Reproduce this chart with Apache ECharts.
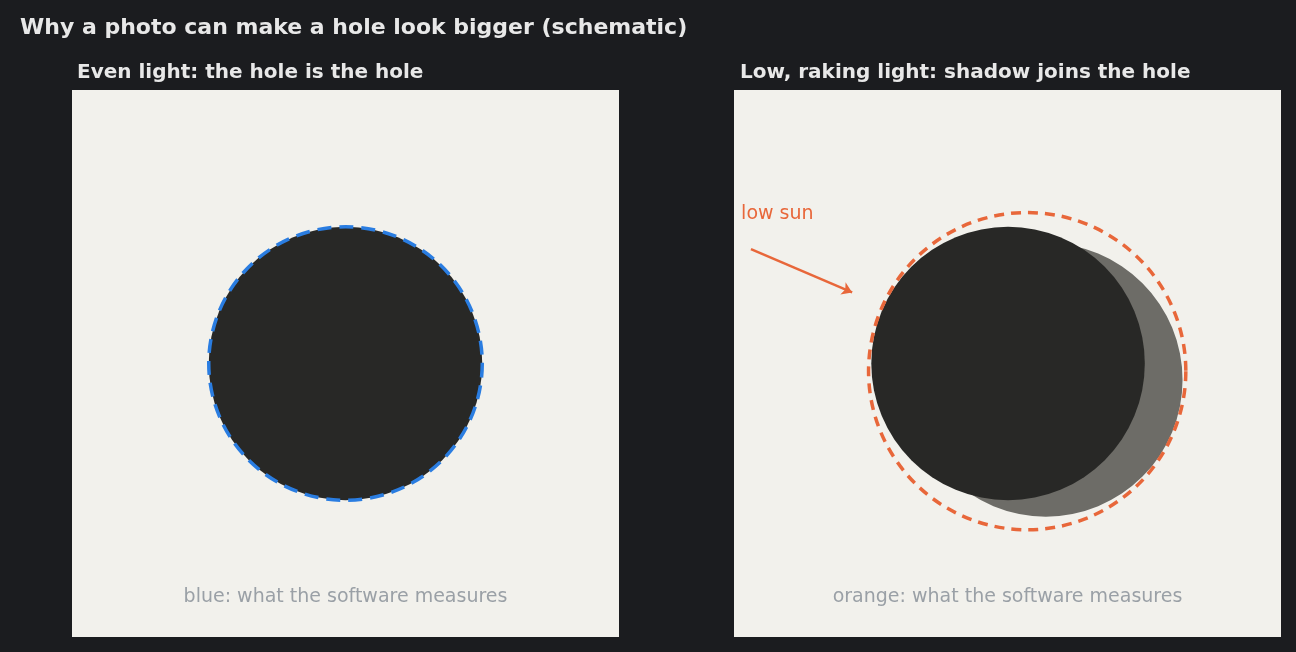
<!DOCTYPE html>
<html><head><meta charset="utf-8">
<script src="https://cdn.jsdelivr.net/npm/echarts@6/dist/echarts.min.js"></script>
<style>html,body{margin:0;background:#1b1c1f}#c{width:1296px;height:652px}</style>
</head><body><div id="c"></div>
<script>
const panelTitles = ['Even light: the hole is the hole', 'Low, raking light: shadow joins the hole'];
const captions = ['blue: what the software measures', 'orange: what the software measures'];
// [cx, cy, r] in panel units (0..10)
const leftHole = [5.0, 5.0, 2.5];
const leftMeasured = [5.0, 5.0, 2.5];
const rightShadow = [5.7, 4.7, 2.5];
const rightHole = [5.01, 5.0, 2.5];
const rightMeasured = [5.36, 4.86, 2.9];
const sunArrow = [[0.31, 7.09], [2.16, 6.30]];
const sunLabel = [0.13, 7.73, 'low sun'];

function circ(d, style, g) {
  return {
    type: 'custom', xAxisIndex: g, yAxisIndex: g, silent: true,
    data: [d],
    renderItem: (p, api) => {
      const c = api.coord([api.value(0), api.value(1)]);
      const r = api.size([api.value(2), 0])[0];
      return {type: 'circle', shape: {cx: c[0], cy: c[1], r: r}, style: style};
    }
  };
}
function txt(d, style, g) {
  return {
    type: 'custom', xAxisIndex: g, yAxisIndex: g, silent: true, data: [d],
    renderItem: (p, api) => {
      const c = api.coord([api.value(0), api.value(1)]);
      return {type: 'text', x: c[0], y: c[1], style: Object.assign({text: d[2]}, style)};
    }
  };
}
const ax = {min: 0, max: 10, show: false};
const chart = echarts.init(document.getElementById('c'));
chart.setOption({
  backgroundColor: '#1b1c1f',
  animation: false,
  title: [
    {text: 'Why a photo can make a hole look bigger (schematic)', left: 15, top: 12, textStyle: {color: '#e8e8e8', fontSize: 22, fontWeight: 'bold', fontFamily: 'DejaVu Sans'}},
    {text: panelTitles[0], left: 72, top: 58, textStyle: {color: '#e8e8e8', fontSize: 20, fontWeight: 'bold', fontFamily: 'DejaVu Sans'}},
    {text: panelTitles[1], left: 735, top: 58, textStyle: {color: '#e8e8e8', fontSize: 20, fontWeight: 'bold', fontFamily: 'DejaVu Sans'}}
  ],
  grid: [
    {left: 72, top: 90, width: 547, height: 547, show: true, backgroundColor: '#f2f1ec', borderWidth: 0},
    {left: 734, top: 90, width: 547, height: 547, show: true, backgroundColor: '#f2f1ec', borderWidth: 0}
  ],
  xAxis: [Object.assign({gridIndex: 0}, ax), Object.assign({gridIndex: 1}, ax)],
  yAxis: [Object.assign({gridIndex: 0}, ax), Object.assign({gridIndex: 1}, ax)],
  series: [
    circ(leftHole, {fill: '#282826'}, 0),
    circ(leftMeasured, {fill: 'none', stroke: '#2a7de1', lineWidth: 3.5, lineDash: [14, 8]}, 0),
    circ(rightShadow, {fill: '#6d6c67'}, 1),
    circ(rightHole, {fill: '#282826'}, 1),
    circ(rightMeasured, {fill: 'none', stroke: '#e8673a', lineWidth: 3.5, lineDash: [10, 7]}, 1),
    {type: 'lines', coordinateSystem: 'cartesian2d', xAxisIndex: 1, yAxisIndex: 1, silent: true,
     symbol: ['none', 'arrow'], symbolSize: 10,
     lineStyle: {color: '#e8673a', width: 2.5, opacity: 1},
     data: [{coords: sunArrow}]},
    txt(sunLabel, {fill: '#e8673a', fontSize: 19, fontFamily: 'DejaVu Sans', align: 'left', verticalAlign: 'middle'}, 1),
    txt([5, 0.73, captions[0]], {fill: '#9aa0a6', fontSize: 19, fontFamily: 'DejaVu Sans', align: 'center', verticalAlign: 'middle'}, 0),
    txt([5, 0.73, captions[1]], {fill: '#9aa0a6', fontSize: 19, fontFamily: 'DejaVu Sans', align: 'center', verticalAlign: 'middle'}, 1)
  ]
});
</script></body></html>
